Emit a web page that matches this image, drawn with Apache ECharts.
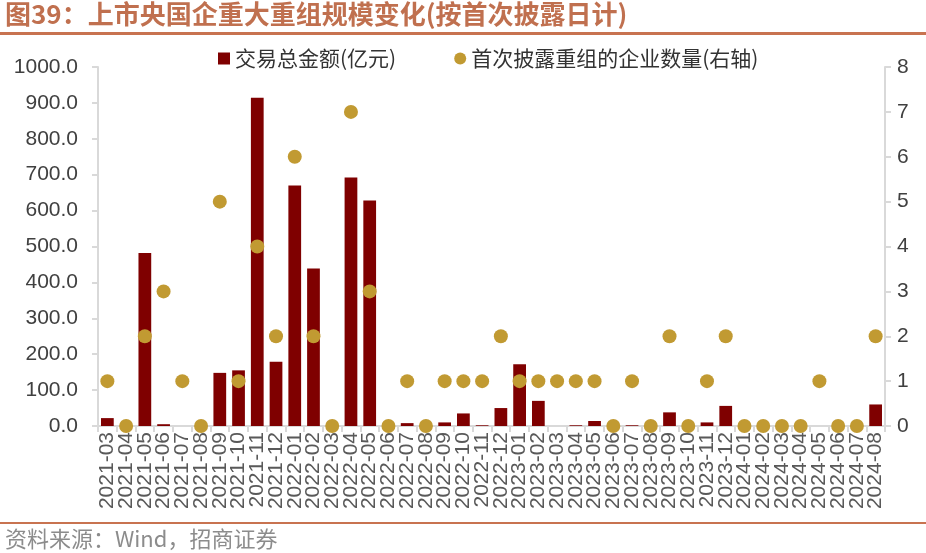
<!DOCTYPE html>
<html><head><meta charset="utf-8">
<script src="https://cdn.jsdelivr.net/npm/echarts@6/dist/echarts.min.js"></script>
<style>html,body{margin:0;padding:0;background:#fff}#c{width:926px;height:553px}</style>
</head><body><div id="c"></div>
<script>
const categories = ['2021-03','2021-04','2021-05','2021-06','2021-07','2021-08','2021-09','2021-10','2021-11','2021-12','2022-01','2022-02','2022-03','2022-04','2022-05','2022-06','2022-07','2022-08','2022-09','2022-10','2022-11','2022-12','2023-01','2023-02','2023-03','2023-04','2023-05','2023-06','2023-07','2023-08','2023-09','2023-10','2023-11','2023-12','2024-01','2024-02','2024-03','2024-04','2024-05','2024-06','2024-07','2024-08'];
const amount = [22,0,482,5,0,0,148,155,914,179,670,439,0,692,628,0,8,0,10,35,2,50,172,70,0,2,14,0,2,0,38,0,10,56,0,0,0,0,0,0,0,60];
const companies = [1,0,2,3,1,0,5,1,4,2,6,2,0,7,3,0,1,0,1,1,1,2,1,1,1,1,1,0,1,0,2,0,1,2,0,0,0,0,1,0,0,2];
const leftTicks = {min:0, max:1000, interval:100};
const rightTicks = {min:0, max:8, interval:1};
const titleText = '图39：上市央国企重大重组规模变化(按首次披露日计)';
const sourceText = '资料来源：Wind，招商证券';
const seriesNames = ['交易总金额(亿元)','首次披露重组的企业数量(右轴)'];

const chart = echarts.init(document.getElementById('c'));
const font = '"Noto Sans CJK SC", "Noto Sans", sans-serif';
const latin = 'Arial, "Liberation Sans", sans-serif';
chart.setOption({
  animation:false,
  textStyle:{fontFamily:font},
  grid:{left:98, right:41, top:67, bottom:127},
  legend:{
    left:213, top:43, itemWidth:12, itemHeight:12, itemGap:58,
    textStyle:{fontSize:21, color:'#333', fontFamily:font},
    data:[{name:seriesNames[0], icon:'rect'},{name:seriesNames[1], icon:'circle'}]
  },
  xAxis:{
    type:'category', data:categories, boundaryGap:true,
    axisLine:{lineStyle:{color:'#d9d9d9', width:2}},
    axisTick:{show:true, alignWithLabel:false, length:6, lineStyle:{color:'#d9d9d9', width:2}},
    axisLabel:{rotate:90, interval:0, fontSize:21, color:'#595959', fontFamily:latin, margin:6}
  },
  yAxis:[{
    type:'value', min:leftTicks.min, max:leftTicks.max, interval:leftTicks.interval,
    splitLine:{show:false},
    axisLine:{show:true, lineStyle:{color:'#d9d9d9', width:2}},
    axisTick:{show:true, length:6, lineStyle:{color:'#d9d9d9', width:2}},
    axisLabel:{fontSize:21, color:'#404040', margin:20, fontFamily:latin, formatter:v=>v.toFixed(1)}
  },{
    type:'value', min:rightTicks.min, max:rightTicks.max, interval:rightTicks.interval,
    splitLine:{show:false}, position:'right',
    axisLine:{show:true, lineStyle:{color:'#d9d9d9', width:2}},
    axisTick:{show:true, length:6, lineStyle:{color:'#d9d9d9', width:2}},
    axisLabel:{fontSize:21, color:'#404040', margin:12, fontFamily:latin}
  }],
  series:[{
    name:seriesNames[0], type:'bar', data:amount, barWidth:'68%', yAxisIndex:0,
    itemStyle:{color:'#7F0000'}
  },{
    name:seriesNames[1], type:'scatter', data:companies, yAxisIndex:1, symbolSize:14,
    itemStyle:{color:'#C19A32', opacity:1}, z:5
  }],
  graphic:[
    {type:'text', left:5, top:1, style:{text:titleText, fontSize:26, fontWeight:'bold', fill:'#C0704F', fontFamily:font}},
    {type:'rect', shape:{x:0, y:32, width:926, height:3}, style:{fill:'#C87350'}},
    {type:'rect', shape:{x:0, y:522, width:926, height:2}, style:{fill:'#C87350'}},
    {type:'text', left:5, top:528, style:{text:sourceText, fontSize:22, fill:'#8c8c8c', fontFamily:font}}
  ]
});
</script></body></html>
